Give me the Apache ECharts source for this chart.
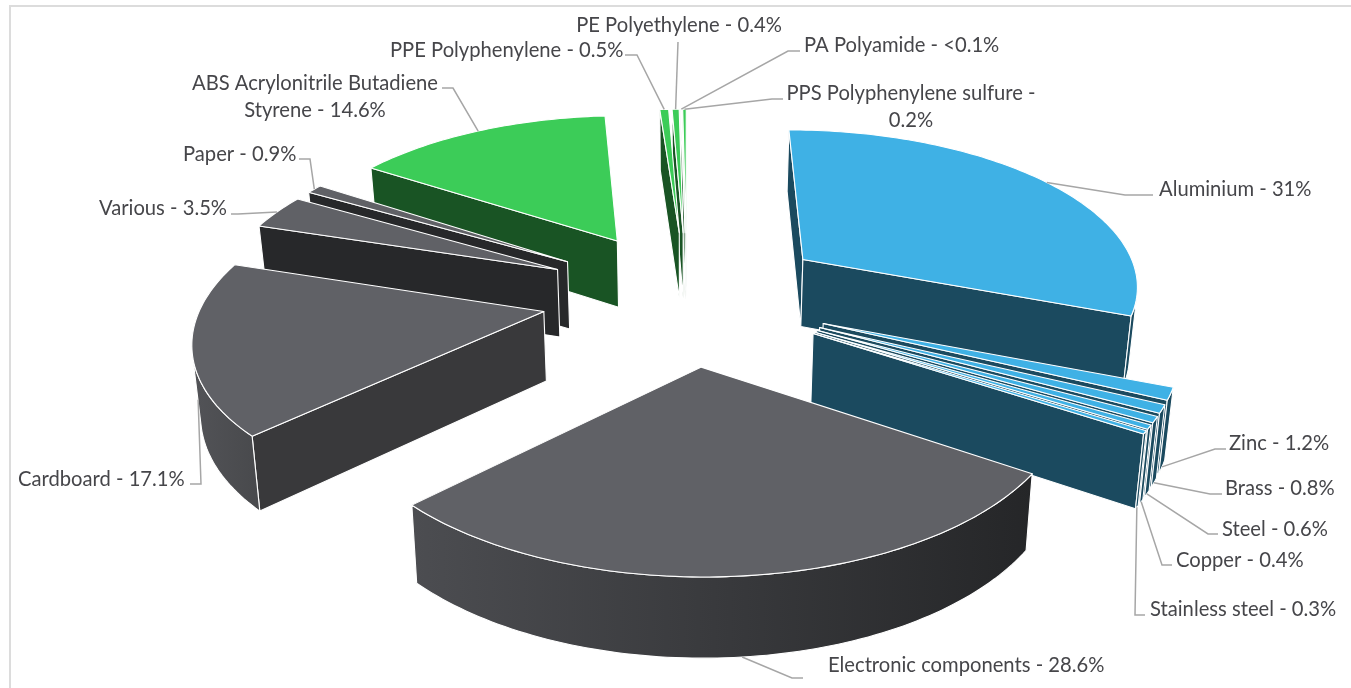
<!DOCTYPE html>
<html>
<head>
<meta charset="utf-8">
<style>html,body{margin:0;padding:0;background:#fff}#main{width:1351px;height:688px}</style>
<script src="https://cdn.jsdelivr.net/npm/echarts@6/dist/echarts.min.js"></script>
</head>
<body>
<div id="main"></div>
<script>
var names = ['Aluminium','Zinc','Brass','Steel','Copper','Stainless steel','Electronic components','Cardboard','Various','Paper','ABS Acrylonitrile Butadiene Styrene','PPE Polyphenylene','PE Polyethylene','PA Polyamide','PPS Polyphenylene sulfure'];
var values = [31, 1.2, 0.8, 0.6, 0.4, 0.3, 28.6, 17.1, 3.5, 0.9, 14.6, 0.5, 0.4, 0.05, 0.2];

var topColors = ['#3fb1e5','#3fb1e5','#3fb1e5','#3fb1e5','#3fb1e5','#3fb1e5','#606166','#606166','#606166','#606166','#3ccc58','#3ccc58','#3ccc58','#3ccc58','#3ccc58'];
var wallColors = ['#1b4a5f','#1b4a5f','#1b4a5f','#1b4a5f','#1b4a5f','#1b4a5f','#27282a','#39393b','#27282a','#27282a','#195424','#195424','#195424','#195424','#195424'];
var rimColors = [['#1b4a5f','#1b4a5f'],['#1b4a5f','#1b4a5f'],['#1b4a5f','#1b4a5f'],['#1b4a5f','#1b4a5f'],['#1b4a5f','#1b4a5f'],['#1b4a5f','#1b4a5f'],['#4c4d51','#252628'],['#525357','#48494c'],['#27282a','#27282a'],['#27282a','#27282a'],['#195424','#195424'],['#195424','#195424'],['#195424','#195424'],['#195424','#195424'],['#195424','#195424']];

// camera of the pie, every slice is pulled out by the same distance
var cx = 687, cy = 296, R = 340, H = 70, D = 2400, Q = 0.463, explode = 145, sink = 0.018;

var total = values.reduce(function (a, b) { return a + b; }, 0);
var cum = 0;
var slices = values.map(function (v, i) {
  var a0 = cum / total * Math.PI * 2;
  cum += v;
  return { i: i, a0: a0, a1: cum / total * Math.PI * 2 };
});

function project(X, Y, drop) {
  // the bottom plane is a bit further from the camera than the top one
  var s = 1 / (1 + Y / D) / (1 + drop * sink);
  return [cx + X * s, cy - Y * Q * s + drop * H * s];
}
function offsetOf(i) {
  var m = (slices[i].a0 + slices[i].a1) / 2;
  return [explode * Math.sin(m), explode * Math.cos(m)];
}
function rimPoint(i, a, drop) {
  var o = offsetOf(i);
  return project(o[0] + R * Math.sin(a), o[1] + R * Math.cos(a), drop);
}
function apexPoint(i, drop) {
  var o = offsetOf(i);
  return project(o[0], o[1], drop);
}
function area(p) {
  var t = 0;
  for (var k = 0; k < p.length; k++) {
    var q = p[(k + 1) % p.length];
    t += p[k][0] * q[1] - q[0] * p[k][1];
  }
  return t / 2;
}

var lineStyle = { stroke: '#ffffff', lineWidth: 1.1, lineJoin: 'round' };
function poly(points, fill) {
  return { type: 'polygon', shape: { points: points }, style: Object.assign({ fill: fill }, lineStyle) };
}

function renderSlice(params, api) {
  var i = api.value(0), s = slices[i];
  var steps = Math.max(4, Math.ceil((s.a1 - s.a0) / 0.02));
  var topRim = [], lowRim = [];
  for (var k = 0; k <= steps; k++) {
    var a = s.a0 + (s.a1 - s.a0) * k / steps;
    topRim.push(rimPoint(i, a, 0));
    lowRim.push(rimPoint(i, a, 1));
  }
  var children = [];
  // radial walls, only the ones looking at the camera
  var ap = apexPoint(i, 0), al = apexPoint(i, 1);
  var wallA = [ap, topRim[0], lowRim[0], al];
  var wallB = [ap, al, lowRim[steps], topRim[steps]];
  if (area(wallA) < 0) children.push(poly(wallA, wallColors[i]));
  if (area(wallB) < 0) children.push(poly(wallB, wallColors[i]));
  // outer wall, visible part of the arc
  var from = -1, to = -1;
  for (k = 0; k < steps; k++) {
    if (area([topRim[k], lowRim[k], lowRim[k + 1], topRim[k + 1]]) > 0) {
      if (from < 0) from = k;
      to = k + 1;
    }
  }
  if (from >= 0) {
    var outer = topRim.slice(from, to + 1).concat(lowRim.slice(from, to + 1).reverse());
    children.push(poly(outer, new echarts.graphic.LinearGradient(0, 0, 1, 0, [
      { offset: 0, color: rimColors[i][0] }, { offset: 1, color: rimColors[i][1] }
    ])));
  }
  children.push(poly([ap].concat(topRim), topColors[i]));
  return { type: 'group', children: children };
}

// label boxes and leader elbows, the last leader point is taken from the slice rim
var labelLayout = [
  { i: 0, lines: ['Aluminium - 31%'], x: 1159, y: 189, align: 'left', elbow: [[1153, 195], [1125, 195]], drop: 0 },
  { i: 1, lines: ['Zinc - 1.2%'], x: 1229, y: 443, align: 'left', elbow: [[1226, 449], [1215, 449]], drop: 1 },
  { i: 2, lines: ['Brass - 0.8%'], x: 1225, y: 488, align: 'left', elbow: [[1222, 494], [1210, 494]], drop: 1 },
  { i: 3, lines: ['Steel - 0.6%'], x: 1222, y: 529, align: 'left', elbow: [[1218, 534], [1208, 534]], drop: 1 },
  { i: 4, lines: ['Copper - 0.4%'], x: 1176, y: 560, align: 'left', elbow: [[1172, 565], [1162, 565]], drop: 1 },
  { i: 5, lines: ['Stainless steel - 0.3%'], x: 1150, y: 609, align: 'left', elbow: [[1145, 615], [1135, 615]], drop: 1 },
  { i: 6, lines: ['Electronic components - 28.6%'], x: 828, y: 665, align: 'left', elbow: [[803, 678], [792, 678]], drop: 1 },
  { i: 7, lines: ['Cardboard - 17.1%'], x: 18, y: 479, align: 'left', elbow: [[190, 484], [201, 484]], drop: 0.7 },
  { i: 8, lines: ['Various - 3.5%'], x: 99, y: 208, align: 'left', elbow: [[231, 214], [238, 214]], drop: 0 },
  { i: 9, lines: ['Paper - 0.9%'], x: 183, y: 154, align: 'left', elbow: [[299, 159], [310, 159]], drop: 0 },
  { i: 10, lines: ['ABS Acrylonitrile Butadiene', 'Styrene - 14.6%'], x: 315, y: 83, align: 'center', elbow: [[442, 88], [453, 88]], drop: 0 },
  { i: 11, lines: ['PPE Polyphenylene - 0.5%'], x: 390, y: 50, align: 'left', elbow: [[625, 55], [637, 55]], drop: 0 },
  { i: 12, lines: ['PE Polyethylene - 0.4%'], x: 679, y: 25, align: 'center', elbow: [[678, 42]], drop: 0 },
  { i: 13, lines: ['PA Polyamide - <0.1%'], x: 804, y: 45, align: 'left', elbow: [[800, 51], [788, 51]], drop: 0 },
  { i: 14, lines: ['PPS Polyphenylene sulfure -', '0.2%'], x: 911, y: 93, align: 'center', elbow: [[783, 99], [772, 99]], drop: 0 }
];

function renderLabel(params, api) {
  var l = labelLayout[api.value(0)], s = slices[l.i];
  var end = rimPoint(l.i, (s.a0 + s.a1) / 2, l.drop);
  var children = [{
    type: 'polyline',
    shape: { points: l.elbow.concat([end]) },
    style: { stroke: '#a6a6a6', lineWidth: 1.5, fill: null }
  }];
  l.lines.forEach(function (t, n) {
    children.push({
      type: 'text',
      style: {
        x: l.x, y: l.y + n * 27, text: t,
        align: l.align, verticalAlign: 'middle',
        font: '20.2px Lato', fill: '#46464a'
      }
    });
  });
  return { type: 'group', children: children };
}

// back slices first
var drawOrder = slices.slice().sort(function (p, q) {
  var mp = (p.a0 + p.a1) / 2, mq = (q.a0 + q.a1) / 2;
  return Math.cos(mq) - Math.cos(mp);
}).map(function (s) { return s.i; });

var chart = echarts.init(document.getElementById('main'), null, { renderer: 'canvas' });
var option = {
  animation: false,
  backgroundColor: '#ffffff',
  graphic: [{
    type: 'polyline',
    shape: { points: [[10, 688], [10, 6], [1351, 6]] },
    style: { stroke: '#dcdcdc', lineWidth: 2, fill: null }
  }],
  series: [
    {
      type: 'custom', coordinateSystem: 'none', silent: true,
      renderItem: renderSlice,
      data: drawOrder.map(function (i) { return [i]; })
    },
    {
      type: 'custom', coordinateSystem: 'none', silent: true, z: 3,
      renderItem: renderLabel,
      data: labelLayout.map(function (l, n) { return [n]; })
    }
  ]
};
chart.setOption(option);
window.addEventListener('resize', chart.resize);
</script>
</body>
</html>
